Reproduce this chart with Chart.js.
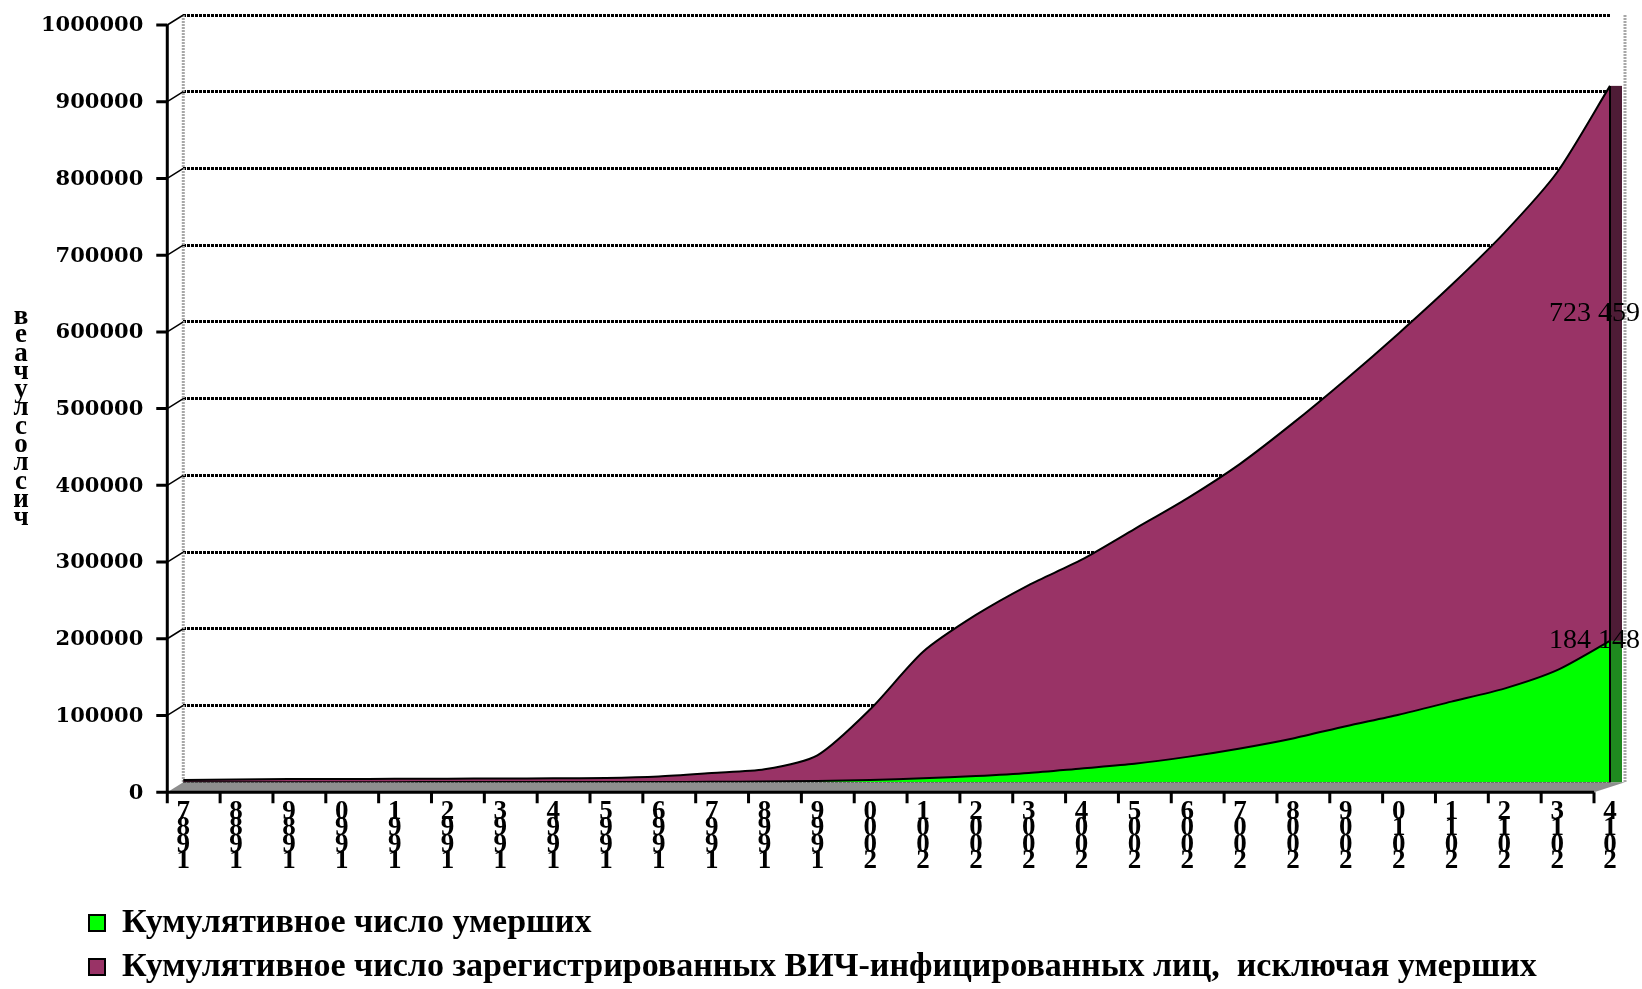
<!DOCTYPE html>
<html>
<head>
<meta charset="utf-8">
<script src="https://cdn.jsdelivr.net/npm/chart.js@4.4.1/dist/chart.umd.min.js"></script>
<style>
    html, body { margin: 0; padding: 0; background: #fff; }
    #wrap { width: 1642px; height: 989px; }
</style>
</head>
<body>
<div id="wrap"><canvas id="hivChart" width="1642" height="989"></canvas></div>
<script>
// Data
const years = [1987, 1988, 1989, 1990, 1991, 1992, 1993, 1994, 1995, 1996, 1997, 1998, 1999, 2000,
               2001, 2002, 2003, 2004, 2005, 2006, 2007, 2008, 2009, 2010, 2011, 2012, 2013, 2014];
// ::::: cumulative deaths :::::
const deaths = [0, 5, 20, 50, 80, 120, 160, 200, 260, 350, 500, 800, 1500, 3000,
                5000, 8000, 12000, 18000, 24000, 33000, 44000, 57000, 73000, 88000, 105000, 122000, 146000, 184148];
// ::::: cumulative registered HIV, excluding deaths :::::
const living = [3000, 3500, 4000, 4200, 4300, 4500, 4700, 4900, 5300, 7200, 11500, 16000, 33500, 92000,
                165000, 210000, 245000, 272000, 306000, 337000, 371000, 411000, 452000, 497000, 543000, 594000, 649000, 723459];
const seriesNames = [
    "Кумулятивное число умерших",
    "Кумулятивное число зарегистрированных ВИЧ-инфицированных лиц,  исключая умерших"
];
const yTitle = "число случаев";
const yMax = 1000000;
const yStep = 100000;

// 3D look: the front axis sits a bit left and below the back wall
const DX = -16, DY = 10;

function fmtNum(v) {
    return String(v).replace(/\B(?=(\d{3})+(?!\d))/g, " ");
}

const depthPlugin = {
    id: "depth",
    afterLayout(chart) {
        // push the legend right/down like in the picture
        const lg = chart.legend;
        lg.left += 78; lg.right += 78;
        lg.top += 5; lg.bottom += 5;
    },
    beforeDatasetsDraw(chart) {
        const { ctx, chartArea: a, scales: { x, y } } = chart;
        const y0 = y.getPixelForValue(0);
        const xr = x.getPixelForValue(years.length - 1);
        ctx.save();
        // side walls
        ctx.strokeStyle = "#a8a8a8";
        ctx.lineWidth = 3;
        ctx.setLineDash([2, 1]);
        ctx.beginPath();
        ctx.moveTo(a.left, y.getPixelForValue(yMax));
        ctx.lineTo(a.left, y0);
        ctx.moveTo(xr + 15, y.getPixelForValue(yMax));
        ctx.lineTo(xr + 15, y0);
        ctx.stroke();
        ctx.setLineDash([]);
        // floor
        ctx.fillStyle = "#8e8e8e";
        ctx.beginPath();
        ctx.moveTo(a.left, y0);
        ctx.lineTo(xr + 15, y0);
        ctx.lineTo(xr + DX, y0 + DY);
        ctx.lineTo(a.left + DX, y0 + DY);
        ctx.closePath();
        ctx.fill();
        ctx.restore();
    },
    afterDatasetsDraw(chart) {
        const { ctx, chartArea: a, scales: { x, y } } = chart;
        const last = years.length - 1;
        const y0 = y.getPixelForValue(0);
        const xr = x.getPixelForValue(last);
        const yD = y.getPixelForValue(deaths[last]);
        const yT = y.getPixelForValue(deaths[last] + living[last]);
        ctx.save();
        // right side faces of the areas
        ctx.fillStyle = "#4e1c36";
        ctx.fillRect(xr, yT, 12, yD - yT);
        ctx.fillStyle = "#1f8a1f";
        ctx.fillRect(xr, yD, 12, y0 - yD);
        ctx.strokeStyle = "#000";
        ctx.lineWidth = 2;
        ctx.beginPath();
        ctx.moveTo(xr, yT); ctx.lineTo(xr, y0);
        ctx.stroke();

        // front axes with tick marks
        ctx.lineWidth = 3;
        ctx.beginPath();
        ctx.moveTo(a.left + DX, y.getPixelForValue(yMax) + DY);
        ctx.lineTo(a.left + DX, y0 + DY);
        ctx.lineTo(xr + DX, y0 + DY);
        for (let v = 0; v <= yMax; v += yStep) {
            const py = y.getPixelForValue(v) + DY;
            ctx.moveTo(a.left + DX - 11, py);
            ctx.lineTo(a.left + DX, py);
        }
        years.forEach((yr, i) => {
            const px = x.getPixelForValue(i) + DX;
            ctx.moveTo(px, y0 + DY);
            ctx.lineTo(px, y0 + DY + 11);
        });
        ctx.stroke();
        ctx.lineWidth = 1.5;
        ctx.beginPath();
        for (let v = yStep; v <= yMax; v += yStep) {
            const py = y.getPixelForValue(v);
            ctx.moveTo(a.left + DX, py + DY);
            ctx.lineTo(a.left, py);
        }
        ctx.stroke();

        // value labels at the last year
        ctx.fillStyle = "#000";
        ctx.font = '28px "Liberation Serif"';
        ctx.textAlign = "right";
        ctx.textBaseline = "middle";
        ctx.fillText(fmtNum(living[last]), xr + 30, y.getPixelForValue(deaths[last] + living[last] * 0.59));
        ctx.fillText(fmtNum(deaths[last]), xr + 30, yD);
        ctx.restore();
    },
    afterDraw(chart) {
        // y title: letters stacked, read bottom to top (the gap is squeezed out)
        const { ctx, scales: { y } } = chart;
        const chars = yTitle.replace(" ", "").split("").reverse();
        const step = 18.3;
        const mid = (y.getPixelForValue(yMax) + y.getPixelForValue(0)) / 2 + 19;
        let py = mid - (chars.length - 1) * step / 2;
        ctx.save();
        ctx.fillStyle = "#000";
        ctx.font = 'bold 27px "Liberation Serif"';
        ctx.textAlign = "center";
        ctx.textBaseline = "middle";
        chars.forEach(c => {
            ctx.fillText(c, 21, py);
            py += step;
        });
        ctx.restore();
    }
};

// THE GRAPH
var ctx = document.getElementById("hivChart");
var hivChart = new Chart(ctx, {
    type: "line",
    data: {
        labels: years,
        datasets: [{
            label: seriesNames[0],
            data: deaths,
            backgroundColor: "#00ff00",
            borderColor: "#000",
            borderWidth: 2,
            pointRadius: 0,
            tension: 0.25,
            fill: "origin"
        }, {
            label: seriesNames[1],
            data: living,
            backgroundColor: "#993366",
            borderColor: "#000",
            borderWidth: 2,
            pointRadius: 0,
            tension: 0.25,
            fill: "-1"
        }]
    },
    options: {
        responsive: false,
        animation: false,
        layout: {
            padding: { left: 1, right: 32, top: 15, bottom: 0 }
        },
        scales: {
            x: {
                grid: { display: false, drawTicks: false },
                border: { display: false },
                ticks: {
                    autoSkip: false,
                    maxRotation: 0,
                    minRotation: 0,
                    padding: 22,
                    color: "#000",
                    font: { family: "'Liberation Serif'", size: 27, weight: "bold", lineHeight: 0.6 },
                    callback: function (value, index) {
                        return String(years[index]).split("").reverse();
                    }
                }
            },
            y: {
                stacked: true,
                min: 0,
                max: yMax,
                grid: { color: "#000", lineWidth: 3, drawTicks: false },
                border: { display: false, dash: [3, 1] },
                ticks: {
                    stepSize: yStep,
                    padding: 40,
                    labelOffset: 11,
                    color: "#000",
                    font: { family: "'DejaVu Serif'", size: 21, weight: "bold" },
                    callback: function (value) {
                        return String(value);
                    }
                },
                afterFit: function (scale) {
                    // tick padding should not push the plot down
                    scale.paddingTop = 0;
                    scale.paddingBottom = 0;
                }
            }
        },
        plugins: {
            legend: {
                position: "bottom",
                align: "start",
                labels: {
                    boxWidth: 16,
                    boxHeight: 16,
                    padding: 10,
                    color: "#000",
                    font: { family: "'Liberation Serif'", size: 34, weight: "bold" }
                }
            },
            tooltip: { enabled: false }
        }
    },
    plugins: [depthPlugin]
});
</script>
</body>
</html>
